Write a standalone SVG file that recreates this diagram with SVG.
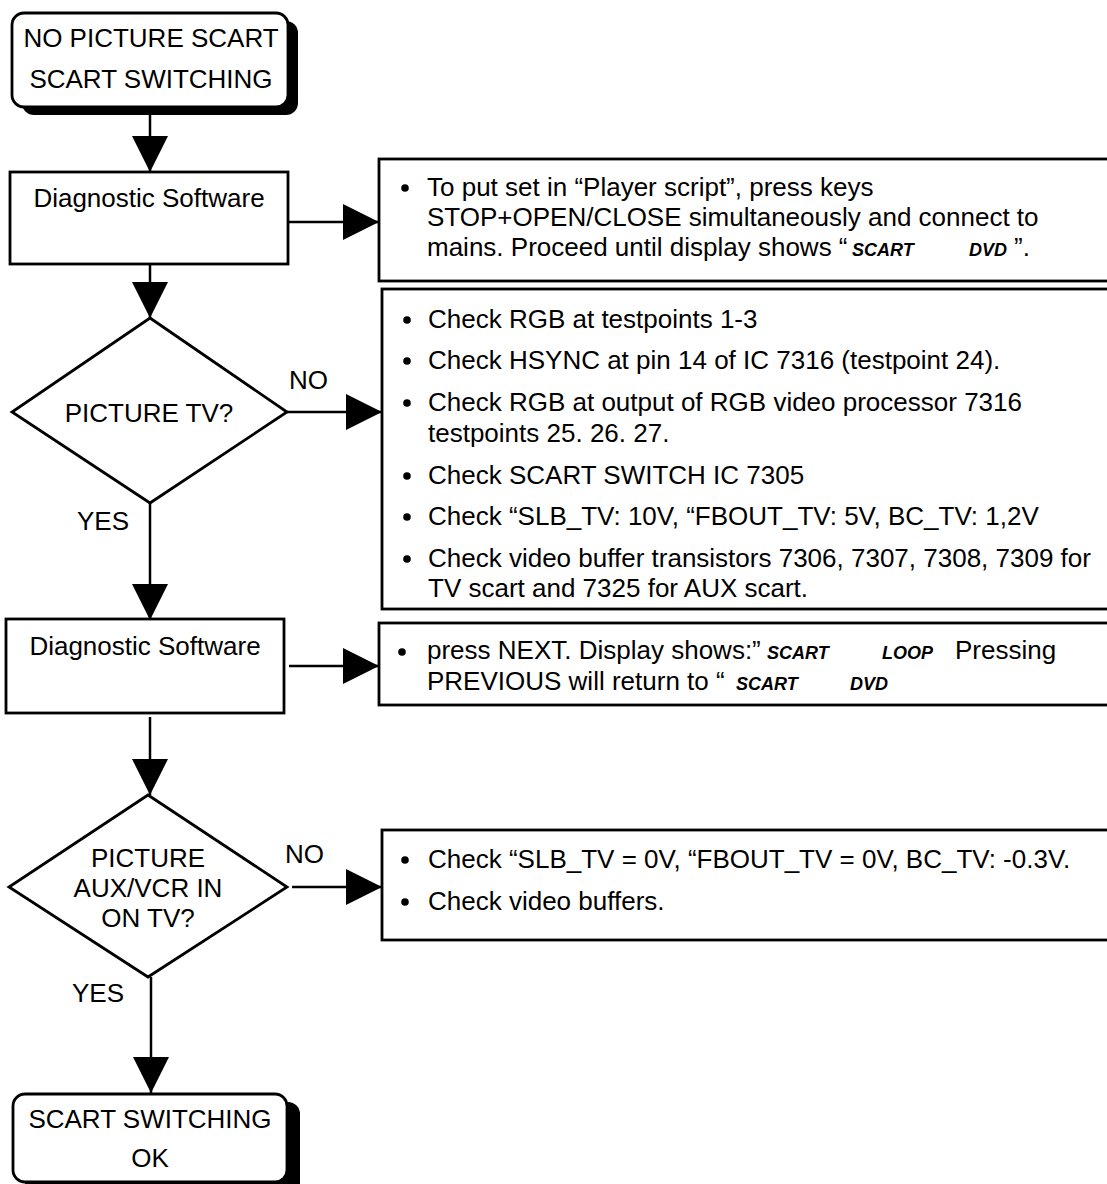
<svg xmlns="http://www.w3.org/2000/svg" width="1107" height="1184" viewBox="0 0 1107 1184">
<style>
text{font-family:"Liberation Sans",Arial,Helvetica,sans-serif;font-size:26px;fill:#000}
.c{text-anchor:middle}
.bi{font-weight:bold;font-style:italic;font-size:18px}
.box{fill:#fff;stroke:#000;stroke-width:2.8}
.shadow{fill:#000}
.line{stroke:#000;stroke-width:2.5;fill:none;marker-end:url(#ah)}
.dot{fill:#000}
</style>
<defs>
<marker id="ah" markerUnits="userSpaceOnUse" markerWidth="37" markerHeight="37" refX="36" refY="18" orient="auto">
<path d="M0,0 L36,18 L0,36 Z" fill="#000"/>
</marker>
</defs>
<rect width="1107" height="1184" fill="#fff"/>

<g id="connectors">
<line class="line" x1="150" y1="107" x2="150" y2="172"/>
<line class="line" x1="288" y1="222" x2="379" y2="222"/>
<line class="line" x1="150" y1="264" x2="150" y2="318"/>
<line class="line" x1="287" y1="412" x2="382" y2="412"/>
<line class="line" x1="150" y1="503" x2="150" y2="620"/>
<line class="line" x1="289" y1="666" x2="379" y2="666"/>
<line class="line" x1="150" y1="717" x2="150" y2="795"/>
<line class="line" x1="292" y1="887" x2="382" y2="887"/>
<line class="line" x1="151" y1="977" x2="151" y2="1093"/>
</g>

<g id="start">
<rect class="shadow" x="22" y="21" width="276" height="94" rx="12"/>
<rect class="box" x="12" y="13" width="276" height="94" rx="12"/>
<text class="c" x="151" y="47">NO PICTURE SCART</text>
<text class="c" x="151" y="88">SCART SWITCHING</text>
</g>

<g id="diag1">
<rect class="box" x="10" y="172" width="278" height="92"/>
<text class="c" x="149" y="207">Diagnostic Software</text>
</g>

<g id="note1">
<rect class="box" x="379" y="159" width="740" height="122"/>
<circle class="dot" cx="405" cy="188" r="3.8"/>
<text x="427" y="196">To put set in “Player script”, press keys</text>
<text x="427" y="226">STOP+OPEN/CLOSE simultaneously and connect to</text>
<text x="427" y="256">mains. Proceed until display shows “<tspan class="bi" x="852">SCART</tspan><tspan class="bi" x="969">DVD</tspan><tspan x="1014">”.</tspan></text>
</g>

<g id="decision1">
<polygon class="box" points="150,318 287,412 150,503 12,412"/>
<text class="c" x="149" y="422">PICTURE TV?</text>
</g>
<text x="289" y="389">NO</text>
<text x="77" y="530">YES</text>

<g id="note2">
<rect class="box" x="382" y="289" width="740" height="320"/>
<circle class="dot" cx="407" cy="320" r="3.8"/>
<text x="428" y="328">Check RGB at testpoints 1-3</text>
<circle class="dot" cx="407" cy="361" r="3.8"/>
<text x="428" y="369">Check HSYNC at pin 14 of IC 7316 (testpoint 24).</text>
<circle class="dot" cx="407" cy="403" r="3.8"/>
<text x="428" y="411">Check RGB at output of RGB video processor 7316</text>
<text x="428" y="442">testpoints 25. 26. 27.</text>
<circle class="dot" cx="407" cy="476" r="3.8"/>
<text x="428" y="484">Check SCART SWITCH IC 7305</text>
<circle class="dot" cx="407" cy="517" r="3.8"/>
<text x="428" y="525">Check “SLB_TV: 10V, “FBOUT_TV: 5V, BC_TV: 1,2V</text>
<circle class="dot" cx="407" cy="559" r="3.8"/>
<text x="428" y="567">Check video buffer transistors 7306, 7307, 7308, 7309 for</text>
<text x="428" y="597">TV scart and 7325 for AUX scart.</text>
</g>

<g id="diag2">
<rect class="box" x="6" y="619" width="278" height="94"/>
<text class="c" x="145" y="655">Diagnostic Software</text>
</g>

<g id="note3">
<rect class="box" x="379" y="623" width="740" height="82"/>
<circle class="dot" cx="402" cy="652" r="3.8"/>
<text x="427" y="659">press NEXT. Display shows:”<tspan class="bi" x="767">SCART</tspan><tspan class="bi" x="882">LOOP</tspan><tspan x="955">Pressing</tspan></text>
<text x="427" y="690">PREVIOUS will return to “ <tspan class="bi" x="736">SCART</tspan><tspan class="bi" x="850">DVD</tspan></text>
</g>

<g id="decision2">
<polygon class="box" points="148,795 287,887 148,977 9,887"/>
<text class="c" x="148" y="867">PICTURE</text>
<text class="c" x="148" y="897">AUX/VCR IN</text>
<text class="c" x="148" y="927">ON TV?</text>
</g>
<text x="285" y="863">NO</text>
<text x="72" y="1002">YES</text>

<g id="note4">
<rect class="box" x="382" y="830" width="740" height="110"/>
<circle class="dot" cx="405" cy="860" r="3.8"/>
<text x="428" y="868">Check “SLB_TV = 0V, “FBOUT_TV = 0V, BC_TV: -0.3V.</text>
<circle class="dot" cx="405" cy="902" r="3.8"/>
<text x="428" y="910">Check video buffers.</text>
</g>

<g id="end">
<rect class="shadow" x="25" y="1102" width="275" height="95" rx="12"/>
<rect class="box" x="13" y="1094" width="274" height="88" rx="12"/>
<text class="c" x="150" y="1128">SCART SWITCHING</text>
<text class="c" x="150" y="1167">OK</text>
</g>
</svg>
